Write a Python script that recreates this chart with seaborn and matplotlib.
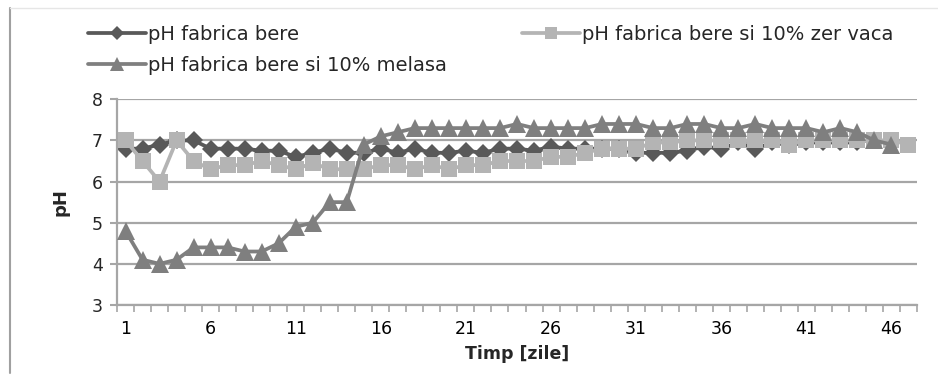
import matplotlib
matplotlib.use("Agg")
import matplotlib.pyplot as plt
from matplotlib.lines import Line2D
import seaborn as sns
import pandas as pd
import numpy as np

days = list(range(1, 48))

ph_bere = [6.8, 6.8, 6.9, 7.0, 7.0, 6.8, 6.8, 6.8, 6.75, 6.75,
           6.6, 6.7, 6.8, 6.7, 6.7, 6.8, 6.7, 6.8, 6.7, 6.7,
           6.75, 6.7, 6.8, 6.8, 6.75, 6.85, 6.8, 6.8, 6.8, 6.8,
           6.7, 6.7, 6.7, 6.75, 6.85, 6.8, 6.95, 6.8, 6.95, 6.9,
           6.95, 6.95, 6.95, 6.95]

ph_zer = [7.0, 6.5, 6.0, 7.0, 6.5, 6.3, 6.4, 6.4, 6.5, 6.4,
          6.3, 6.45, 6.3, 6.3, 6.3, 6.4, 6.4, 6.3, 6.4, 6.3,
          6.4, 6.4, 6.5, 6.5, 6.5, 6.6, 6.6, 6.7, 6.8, 6.8,
          6.8, 6.95, 6.95, 7.0, 7.0, 7.0, 7.0, 7.0, 7.0, 6.9,
          7.0, 7.0, 7.0, 7.0, 7.0, 7.0, 6.9]

ph_melasa = [4.8, 4.1, 4.0, 4.1, 4.4, 4.4, 4.4, 4.3, 4.3, 4.5,
             4.9, 5.0, 5.5, 5.5, 6.9, 7.1, 7.2, 7.3, 7.3, 7.3,
             7.3, 7.3, 7.3, 7.4, 7.3, 7.3, 7.3, 7.3, 7.4, 7.4,
             7.4, 7.3, 7.3, 7.4, 7.4, 7.3, 7.3, 7.4, 7.3, 7.3,
             7.3, 7.2, 7.3, 7.2, 7.0, 6.9]

labels = ["pH fabrica bere", "pH fabrica bere si 10% zer vaca",
          "pH fabrica bere si 10% melasa"]
x_tick_labels = [str(d) for d in range(1, 48, 5)]
y_ticks = [3, 4, 5, 6, 7, 8]

sns.set_theme(style="white")
plt.rcParams['font.family'] = ['DejaVu Sans']

fig = plt.figure(figsize=(9.38, 3.81), dpi=100)
ax = fig.add_axes([117 / 938, 1 - 305 / 381, 800 / 938, (305 - 99.3) / 381])

series = [
    (ph_bere, labels[0], "#595959", "D", 9.5, 2),
    (ph_zer, labels[1], "#b4b4b4", "s", 12, 3),
    (ph_melasa, labels[2], "#7f7f7f", "^", 13, 4),
]
handles = []
for vals, lab, col, mk, ms, z in series:
    df = pd.DataFrame({"day": np.arange(len(vals)), "ph": vals})
    sns.lineplot(data=df, x="day", y="ph", ax=ax, color=col, marker=mk,
                 markersize=ms, markeredgewidth=0, linewidth=2.7,
                 zorder=z, legend=False)
    handles.append(Line2D([0], [0], color=col, marker=mk, markersize=ms * 0.75,
                          markeredgewidth=0, linewidth=2.7))

ax.set_xlim(-0.5, 46.5)
ax.set_ylim(3, 8)
ax.set_yticks(y_ticks)
ax.set_yticklabels([str(t) for t in y_ticks], fontsize=12.5)
ax.set_xticks(np.arange(0, 47, 5))
ax.set_xticklabels(x_tick_labels, fontsize=12.5)
ax.set_xticks(np.arange(-0.5, 47, 1), minor=True)
ax.tick_params(axis="x", which="major", length=0, pad=11, colors="black")
ax.tick_params(axis="x", which="minor", length=5, width=1.2, color="#a6a6a6", direction="out", bottom=True)
ax.tick_params(axis="y", which="major", length=5, width=1.5, color="#a6a6a6", direction="out", left=True, pad=5)
ax.grid(axis="y", color="#a6a6a6", linewidth=1.6)
ax.grid(axis="x", visible=False)
ax.set_axisbelow(True)
for s in ["top", "right"]:
    ax.spines[s].set_visible(False)
for s in ["left", "bottom"]:
    ax.spines[s].set_color("#a6a6a6")
    ax.spines[s].set_linewidth(1.6)

ax.set_xlabel("Timp [zile]", fontsize=12.5, fontweight="bold", labelpad=5)
ax.set_ylabel("pH", fontsize=13, fontweight="bold", labelpad=16)

leg_kw = dict(frameon=False, fontsize=14, handlelength=3.0, handletextpad=0.1,
              labelspacing=0.62, borderaxespad=0, borderpad=0)
leg1 = fig.legend([handles[0], handles[2]], [labels[0], labels[2]],
                  loc="upper left", bbox_to_anchor=(88 / 938, 1 - 25 / 381), **leg_kw)
leg2 = fig.legend([handles[1]], [labels[1]],
                  loc="upper left", bbox_to_anchor=(522 / 938, 1 - 25 / 381), **leg_kw)

fig.add_artist(Line2D([10 / 938, 10 / 938], [1 - 8 / 381, 0.02], transform=fig.transFigure,
                      color="#a0a0a0", linewidth=1.5))
fig.add_artist(Line2D([10 / 938, 1.0], [1 - 8 / 381, 1 - 8 / 381], transform=fig.transFigure,
                      color="#e6e6e6", linewidth=1.0))

fig.savefig("out.png", dpi=100)
